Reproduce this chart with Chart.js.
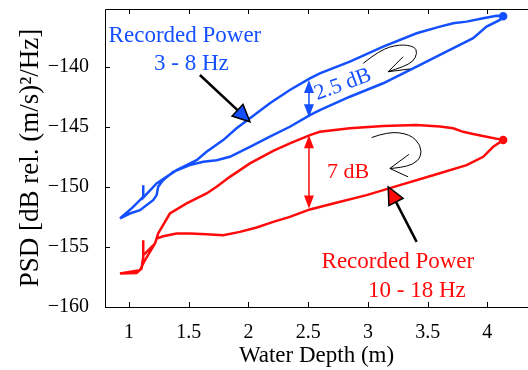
<!DOCTYPE html>
<html>
<head>
<meta charset="utf-8">
<script src="https://cdn.jsdelivr.net/npm/chart.js@4/dist/chart.umd.min.js"></script>
<style>
  html, body { margin: 0; padding: 0; background: #fff; overflow: hidden; }
</style>
</head>
<body>
<canvas id="myChart" width="528" height="370"></canvas>
<script>
// tick values
const xTickVals = [1, 1.5, 2, 2.5, 3, 3.5, 4];
const yTickVals = [-160, -155, -150, -145, -140];

// 3 - 8 Hz loop (lower branch going out, upper branch coming back)
const blueDepth = [0.925, 1.008, 1.092, 1.203, 1.232, 1.245, 1.287, 1.371, 1.51, 1.622, 1.734, 1.845, 2.013, 2.18, 2.347, 2.515, 2.598, 2.849, 3.128, 3.408, 3.686, 3.881, 3.993, 4.105, 4.132,
  4.077, 3.965, 3.826, 3.714, 3.603, 3.408, 3.128, 2.849, 2.598, 2.515, 2.347, 2.18, 2.013, 1.901, 1.789, 1.65, 1.567, 1.399, 1.315, 1.232, 1.12, 1.12, 1.12, 1.036, 0.925];
const bluePsd = [-152.63, -152.22, -151.94, -151.11, -150.69, -150.0, -149.44, -148.75, -148.19, -147.92, -147.78, -147.5, -146.67, -145.83, -145.0, -144.03, -143.61, -142.5, -141.38, -140.0, -138.61, -137.63, -136.67, -136.11, -135.8,
  -135.77, -135.97, -136.25, -136.38, -136.67, -137.22, -138.33, -139.58, -140.55, -140.97, -141.94, -143.05, -144.3, -145.13, -146.11, -147.08, -147.78, -148.61, -149.17, -149.72, -150.9, -149.86, -150.83, -151.67, -152.63];

// 10 - 18 Hz loop
const redDepth = [0.925, 1.064, 1.106, 1.12, 1.12, 1.12, 1.162, 1.218, 1.232, 1.287, 1.399, 1.51, 1.65, 1.789, 1.929, 2.069, 2.208, 2.347, 2.515, 2.71, 2.989, 3.268, 3.546, 3.826, 3.965, 4.021, 4.049, 4.132,
  4.105, 3.993, 3.881, 3.797, 3.714, 3.603, 3.408, 3.128, 2.849, 2.598, 2.515, 2.347, 2.208, 2.013, 1.845, 1.734, 1.65, 1.483, 1.343, 1.245, 1.218, 1.134, 1.092, 0.925];
const redPsd = [-157.22, -157.17, -156.8, -155.83, -154.45, -155.7, -155.28, -154.72, -154.3, -154.11, -153.88, -153.88, -153.94, -154.03, -153.75, -153.38, -152.92, -152.5, -151.88, -151.38, -150.69, -149.86, -149.03, -148.19, -147.5, -146.94, -146.67, -146.11,
  -146.05, -145.83, -145.61, -145.42, -145.13, -144.97, -144.86, -144.94, -145.13, -145.42, -145.69, -146.38, -147.0, -148.05, -149.17, -150.0, -150.55, -151.38, -152.22, -153.88, -154.72, -156.11, -156.94, -157.22];

const blueTurn = 24;
const redTurn = 27;

const blue = 'rgb(20, 80, 255)';
const red = 'rgb(255, 10, 10)';
const serif = "'Liberation Serif', 'Times New Roman', serif";

function toPoints(xs, ys) {
  return xs.map((v, i) => ({ x: v, y: ys[i] }));
}

function arrowHead(ctx, x1, y1, x2, y2, len, half, fill, stroke) {
  const a = Math.atan2(y2 - y1, x2 - x1);
  ctx.beginPath();
  ctx.moveTo(x2, y2);
  ctx.lineTo(x2 - len * Math.cos(a) + half * Math.sin(a), y2 - len * Math.sin(a) - half * Math.cos(a));
  ctx.lineTo(x2 - len * Math.cos(a) - half * Math.sin(a), y2 - len * Math.sin(a) + half * Math.cos(a));
  ctx.closePath();
  ctx.fillStyle = fill;
  ctx.fill();
  if (stroke) {
    ctx.strokeStyle = stroke;
    ctx.lineWidth = 1.5;
    ctx.stroke();
  }
}

function curl(ctx, pts) {
  ctx.beginPath();
  ctx.moveTo(pts[0][0], pts[0][1]);
  for (let i = 1; i < pts.length - 1; i++) {
    const mx = (pts[i][0] + pts[i + 1][0]) / 2;
    const my = (pts[i][1] + pts[i + 1][1]) / 2;
    ctx.quadraticCurveTo(pts[i][0], pts[i][1], mx, my);
  }
  const last = pts[pts.length - 1];
  ctx.lineTo(last[0], last[1]);
  ctx.stroke();
}

// annotation positions (data units)
const blueCurl = [[2.961, -139.72], [3.1, -138.61], [3.268, -138.13], [3.393, -138.33], [3.413, -138.88], [3.379, -139.58], [3.295, -140.0], [3.17, -140.42]];
const blueCurlHead = [[3.295, -139.17], [3.17, -140.42], [3.351, -140.19]];
const redCurl = [[3.031, -145.9], [3.167, -145.4], [3.351, -145.61], [3.444, -146.53], [3.444, -147.53], [3.377, -148.15], [3.268, -148.4], [3.184, -148.47]];
const redCurlHead = [[3.343, -147.3], [3.184, -148.47], [3.337, -149.17]];

const frame = {
  id: 'frame',
  afterDatasetsDraw(chart) {
    const { ctx, chartArea: a, scales: { x, y } } = chart;
    const px = (v) => x.getPixelForValue(v);
    const py = (v) => y.getPixelForValue(v);
    ctx.save();

    // axes box (left, top, bottom) with inward ticks
    ctx.strokeStyle = '#000';
    ctx.lineWidth = 1;
    ctx.beginPath();
    ctx.moveTo(a.right + 5, Math.round(a.top) + 0.5);
    ctx.lineTo(Math.round(a.left) + 0.5, Math.round(a.top) + 0.5);
    ctx.lineTo(Math.round(a.left) + 0.5, Math.round(a.bottom) + 0.5);
    ctx.lineTo(a.right + 5, Math.round(a.bottom) + 0.5);
    xTickVals.forEach((v) => {
      const X = Math.round(px(v)) + 0.5;
      ctx.moveTo(X, a.bottom);
      ctx.lineTo(X, a.bottom - 5);
      ctx.moveTo(X, a.top);
      ctx.lineTo(X, a.top + 5);
    });
    yTickVals.forEach((v) => {
      const Y = Math.round(py(v)) + 0.5;
      ctx.moveTo(a.left, Y);
      ctx.lineTo(a.left + 5, Y);
    });
    ctx.stroke();

    // double arrows
    [[2.507, -141.1, -144.2, blue], [2.507, -145.7, -151.8, red]].forEach(([xv, y1, y2, c]) => {
      const X = px(xv), Y1 = py(y1), Y2 = py(y2);
      ctx.strokeStyle = c;
      ctx.lineWidth = 1.5;
      ctx.beginPath();
      ctx.moveTo(X, Y1 + 8);
      ctx.lineTo(X, Y2 - 8);
      ctx.stroke();
      arrowHead(ctx, X, Y2, X, Y1, 13, 5, c);
      arrowHead(ctx, X, Y1, X, Y2, 13, 5, c);
    });

    // pointer arrows to each curve
    [[1.594, -140.69, 2.013, -144.59, blue], [3.408, -154.58, 3.17, -150.0, red]].forEach(([x1, y1, x2, y2, c]) => {
      const X1 = px(x1), Y1 = py(y1), X2 = px(x2), Y2 = py(y2);
      ctx.strokeStyle = '#000';
      ctx.lineWidth = 2.5;
      ctx.beginPath();
      ctx.moveTo(X1, Y1);
      ctx.lineTo(X2 - (X2 - X1) * 0.2, Y2 - (Y2 - Y1) * 0.2);
      ctx.stroke();
      arrowHead(ctx, X1, Y1, X2, Y2, 17, 8, c, '#000');
    });

    // curly arrows
    ctx.strokeStyle = '#000';
    ctx.lineWidth = 1;
    [[blueCurl, blueCurlHead], [redCurl, redCurlHead]].forEach(([c, h]) => {
      curl(ctx, c.map((p) => [px(p[0]), py(p[1])]));
      ctx.beginPath();
      h.forEach((p, i) => (i ? ctx.lineTo(px(p[0]), py(p[1])) : ctx.moveTo(px(p[0]), py(p[1]))));
      ctx.stroke();
    });

    // labels
    ctx.font = '23px ' + serif;
    ctx.textAlign = 'center';
    ctx.textBaseline = 'alphabetic';
    ctx.fillStyle = blue;
    ctx.fillText('Recorded Power', px(1.469), py(-137.92));
    ctx.fillText('3 - 8 Hz', px(1.523), py(-140.28));
    ctx.fillStyle = red;
    ctx.fillText('Recorded Power', px(3.251), py(-156.78));
    ctx.fillText('10 - 18 Hz', px(3.41), py(-159.17));

    ctx.font = '22px ' + serif;
    ctx.fillText('7 dB', px(2.835), py(-149.3));
    ctx.fillStyle = blue;
    ctx.translate(px(2.808), py(-141.94));
    ctx.rotate(-20 * Math.PI / 180);
    ctx.fillText('2.5 dB', 0, 0);

    ctx.restore();
  },
};

const data = {
  datasets: [
    {
      label: '3 - 8 Hz',
      data: toPoints(blueDepth, bluePsd),
      borderColor: blue,
      backgroundColor: blue,
      borderWidth: 2.5,
      showLine: true,
      pointRadius: (c) => (c.dataIndex === blueTurn ? 3 : 0),
    },
    {
      label: '10 - 18 Hz',
      data: toPoints(redDepth, redPsd),
      borderColor: red,
      backgroundColor: red,
      borderWidth: 2.5,
      showLine: true,
      pointRadius: (c) => (c.dataIndex === redTurn ? 3 : 0),
    },
  ],
};

const config = {
  type: 'scatter',
  data: data,
  options: {
    responsive: false,
    animation: false,
    layout: { padding: { top: 9, right: 0, left: 0, bottom: 0 } },
    plugins: { legend: { display: false }, tooltip: { enabled: false } },
    scales: {
      x: {
        min: 0.8,
        max: 4.34,
        grid: { display: false },
        border: { display: false },
        afterBuildTicks: (s) => { s.ticks = xTickVals.map((v) => ({ value: v })); },
        afterFit: (s) => { s.height = 63; s.paddingLeft = 0; s.paddingRight = 0; },
        ticks: { color: '#000', padding: 6, font: { family: serif, size: 20 }, callback: (v) => String(v) },
        title: { display: true, text: 'Water Depth (m)', color: '#000', padding: 0, font: { family: serif, size: 23 } },
      },
      y: {
        min: -160,
        max: -135.2,
        grid: { display: false },
        border: { display: false },
        afterBuildTicks: (s) => { s.ticks = yTickVals.map((v) => ({ value: v })); },
        afterFit: (s) => { s.width = 105; s.paddingTop = 0; s.paddingBottom = 0; },
        ticks: {
          color: '#000',
          padding: 8,
          font: { family: serif, size: 20 },
          callback: (v) => (v < 0 ? '\u2212' + Math.abs(v) : String(v)),
        },
        title: { display: true, text: 'PSD [dB rel. (m/s)\u00b2/Hz]', color: '#000', padding: { top: 15, bottom: 0 }, font: { family: serif, size: 27 } },
      },
    },
  },
  plugins: [frame],
};

const myChart = new Chart(document.getElementById('myChart'), config);
</script>
</body>
</html>
